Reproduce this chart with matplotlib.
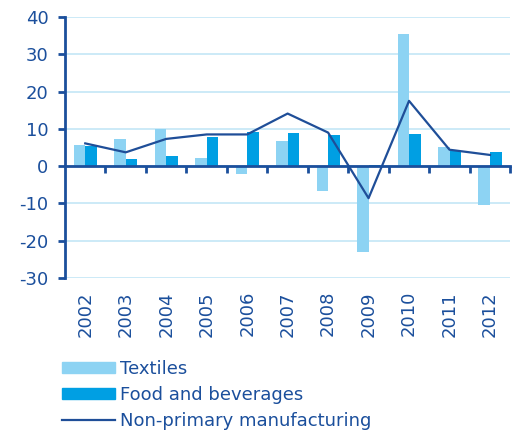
import numpy as np
import matplotlib.pyplot as plt
from matplotlib.patches import Patch
from matplotlib.lines import Line2D

plt.rcParams['axes.unicode_minus'] = False

years = ['2002', '2003', '2004', '2005', '2006', '2007', '2008', '2009', '2010', '2011', '2012']
textiles = [5.6, 7.4, 10.0, 2.1, -2.1, 6.8, -6.7, -23.0, 35.5, 5.1, -10.3]
food_bev = [5.5, 1.9, 2.8, 7.9, 9.2, 8.9, 8.3, 0.4, 8.6, 4.1, 3.8]
non_primary = [6.1, 3.7, 7.3, 8.5, 8.5, 14.1, 9.0, -8.6, 17.5, 4.4, 3.0]

c_text = '#1B4F9C'
c_light = '#8DD3F3'
c_food = '#009FE3'
c_line = '#1F4E98'
c_grid = '#C4E6F6'

fig = plt.figure(figsize=(5.18, 4.30), dpi=100)
ax = fig.add_axes([0.1255, 0.3535, 0.8595, 0.607])

x = np.arange(len(years))
w = 0.285
ax.bar(x - w/2, textiles, w, color=c_light, zorder=2)
ax.bar(x + w/2, food_bev, w, color=c_food, zorder=2)
ax.plot(x, non_primary, color=c_line, lw=1.6, zorder=3)

ax.set_xlim(-0.5, len(years) - 0.5)
ax.set_ylim(-30, 40)
ax.set_yticks(range(-30, 41, 10))
ax.grid(axis='y', color=c_grid, lw=1.2, zorder=0)

for s in ['top', 'right']:
    ax.spines[s].set_visible(False)
ax.spines['left'].set_color(c_text)
ax.spines['left'].set_linewidth(2)
ax.spines['bottom'].set_position(('data', 0))
ax.spines['bottom'].set_color(c_text)
ax.spines['bottom'].set_linewidth(2)
ax.spines['bottom'].set_zorder(4)

ax.set_xticks(np.arange(0.5, len(years), 1))
ax.set_xticklabels([])
ax.tick_params(axis='x', direction='out', length=5, width=2, color=c_text)
ax.tick_params(axis='y', direction='out', length=5, width=2, color=c_text,
               labelcolor=c_text, labelsize=13, pad=7)

for i, yr in enumerate(years):
    ax.text(i, -0.05, yr, transform=ax.get_xaxis_transform(), rotation=90,
            ha='center', va='top', color=c_text, fontsize=13)

handles = [Patch(color=c_light), Patch(color=c_food), Line2D([], [], color=c_line, lw=1.6)]
labels = ['Textiles', 'Food and beverages', 'Non-primary manufacturing']
fig.legend(handles, labels, loc='upper left', bbox_to_anchor=(0.12, 0.163),
           frameon=False, fontsize=13, labelcolor=c_text, handlelength=2.9,
           handleheight=0.55, handletextpad=0.3, labelspacing=0.45,
           borderaxespad=0, borderpad=0)

fig.savefig('out.png', dpi=100)
